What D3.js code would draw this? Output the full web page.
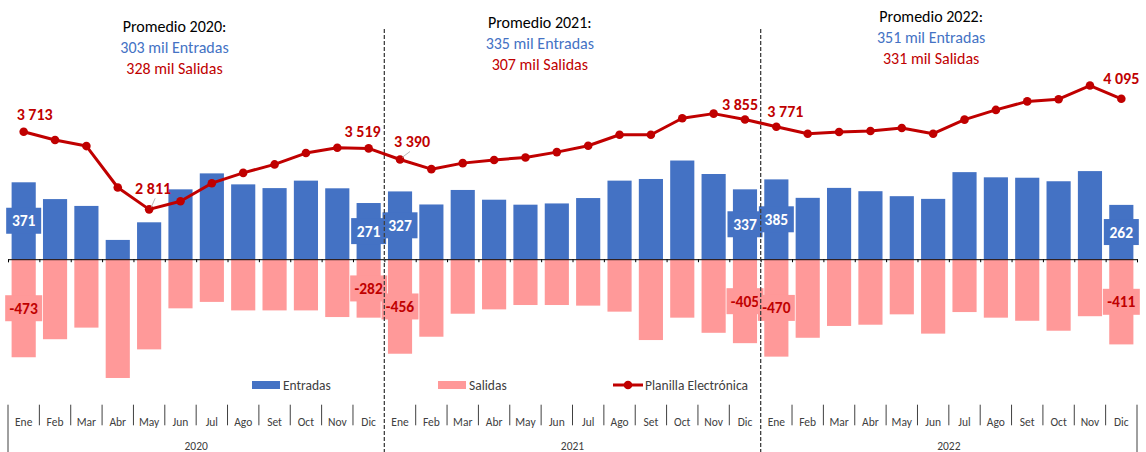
<!DOCTYPE html>
<html>
<head>
<meta charset="utf-8">
<script src="https://cdn.jsdelivr.net/npm/d3@7"></script>
<style>
  html, body { margin: 0; padding: 0; background: #fff; }
  svg { display: block; font-family: Carlito, Calibri, Lato, sans-serif; }
</style>
</head>
<body>
<svg id="chart" width="1146" height="452"></svg>
<script>
// ---------- data ----------
const months = ["Ene","Feb","Mar","Abr","May","Jun","Jul","Ago","Set","Oct","Nov","Dic"];
const years = ["2020","2021","2022"];
const entradas = [
  371, 290, 257, 93, 178, 337, 414, 361, 343, 379, 342, 271,
  327, 264, 334, 287, 263, 269, 295, 379, 387, 476, 411, 337,
  385, 296, 344, 328, 304, 291, 420, 395, 393, 376, 425, 262
];
const salidas = [
  -473, -386, -330, -573, -435, -237, -206, -247, -247, -247, -279, -282,
  -456, -374, -263, -242, -221, -221, -224, -253, -390, -282, -355, -405,
  -470, -379, -322, -316, -266, -359, -255, -282, -297, -345, -275, -411
];
const planilla = [
  3713, 3616, 3546, 3065, 2811, 2905, 3115, 3235, 3333, 3465, 3527, 3519,
  3390, 3278, 3348, 3385, 3414, 3476, 3550, 3678, 3678, 3869, 3923, 3855,
  3771, 3690, 3710, 3721, 3756, 3690, 3853, 3966, 4065, 4090, 4249, 4095
];
const promEntradas = [303, 335, 351];
const promSalidas = [328, 307, 331];
const barLabelIdx = [0, 11, 12, 23, 24, 35];
const lineLabelIdx = [0, 4, 11, 12, 23, 24, 35];

// ---------- layout / style config ----------
const W = 1146, H = 452;
const C_BLUE = "#4472C4", C_PINK = "#FF9999", C_RED = "#C00000", C_TXT = "#404040";
const lineLabelOffset = { 0:[11,-17], 4:[4,-21], 11:[-6,-17], 12:[12,-18], 23:[-5,-15], 24:[9,-15], 35:[0,-20] };
const leaderIdx = [4, 12];
const titleDx = [-6, -17, -2];
const titleY0 = [32, 28, 22];

const svg = d3.select("#chart");
const fmt = d3.formatLocale({ decimal: ",", thousands: " ", grouping: [3], currency: ["", ""] }).format(",");

const idx = d3.range(entradas.length);
const x = d3.scaleBand().domain(idx).range([8, 1137]).paddingInner(0.23).paddingOuter(0.115);
const y1 = d3.scaleLinear().domain([-600, 600]).range([259.2 + 600 * 0.2073, 259.2 - 600 * 0.2073]);
const y2 = d3.scaleLinear().domain([2800, 4300]).range([131.7 + 913 * 0.0861, 131.7 - 587 * 0.0861]);
const cx = i => x(i) + x.bandwidth() / 2;
const edge = i => x.range()[0] + i * x.step();

// bars
svg.append("g").selectAll("rect").data(idx).join("rect")
  .attr("x", i => x(i)).attr("width", x.bandwidth())
  .attr("y", i => y1(entradas[i])).attr("height", i => y1(0) - y1(entradas[i]))
  .attr("fill", C_BLUE);
svg.append("g").selectAll("rect").data(idx).join("rect")
  .attr("x", i => x(i)).attr("width", x.bandwidth())
  .attr("y", y1(0)).attr("height", i => y1(salidas[i]) - y1(0))
  .attr("fill", C_PINK);

// zero axis with ticks at band edges
const zeroAxis = d3.axisBottom(d3.scaleLinear().domain([0, 36]).range([edge(0), edge(36)]))
  .tickValues(d3.range(37)).tickSize(3).tickFormat("");
svg.append("g").attr("transform", `translate(0,${y1(0)})`).call(zeroAxis)
  .call(g => g.selectAll("path,line").attr("stroke", "#000").attr("stroke-width", 1));

// bar labels
const bl = svg.append("g").attr("font-weight", "bold").attr("font-size", 15.5);
barLabelIdx.forEach(i => {
  const ym = (y1(entradas[i]) + y1(0)) / 2;
  bl.append("rect").attr("x", cx(i) - 17.5).attr("y", ym - 13).attr("width", 35).attr("height", 26).attr("fill", C_BLUE);
  bl.append("text").attr("x", cx(i)).attr("y", ym + 5.5).attr("text-anchor", "middle").attr("fill", "#fff").text(entradas[i]);
  const ys = (y1(salidas[i]) + y1(0)) / 2;
  bl.append("rect").attr("x", cx(i) - 18.5).attr("y", ys - 13).attr("width", 37).attr("height", 26).attr("fill", C_PINK);
  bl.append("text").attr("x", cx(i)).attr("y", ys + 5.5).attr("text-anchor", "middle").attr("fill", C_RED).text(salidas[i]);
});

// dashed year separators
[12, 24].forEach(k => {
  svg.append("line").attr("x1", edge(k)).attr("x2", edge(k)).attr("y1", 29).attr("y2", H)
    .attr("stroke", "#404040").attr("stroke-width", 1.3).attr("stroke-dasharray", "4,2");
});

// line
const line = d3.line().x(i => cx(i)).y(i => y2(planilla[i]));
svg.append("path").datum(idx).attr("d", line).attr("fill", "none")
  .attr("stroke", C_RED).attr("stroke-width", 3).attr("stroke-linejoin", "round");
svg.append("g").selectAll("circle").data(idx).join("circle")
  .attr("cx", cx).attr("cy", i => y2(planilla[i])).attr("r", 4.3).attr("fill", C_RED);

// leader lines
leaderIdx.forEach(i => {
  const o = lineLabelOffset[i];
  svg.append("line").attr("x1", cx(i) + 2).attr("y1", y2(planilla[i]) - 2)
    .attr("x2", cx(i) + o[0] * 0.5 + 4).attr("y2", y2(planilla[i]) + o[1] + 10)
    .attr("stroke", "#A6A6A6").attr("stroke-width", 0.8);
});

// line labels
lineLabelIdx.forEach(i => {
  const o = lineLabelOffset[i];
  svg.append("text").attr("x", cx(i) + o[0]).attr("y", y2(planilla[i]) + o[1] + 5.5)
    .attr("text-anchor", "middle").attr("font-weight", "bold").attr("font-size", 16)
    .attr("fill", C_RED).text(fmt(planilla[i]));
});

// titles
years.forEach((yr, k) => {
  const tx = cx(k * 12 + 5) + titleDx[k];
  const g = svg.append("g").attr("text-anchor", "middle").attr("font-size", 16);
  g.append("text").attr("x", tx).attr("y", titleY0[k]).attr("fill", "#000").text(`Promedio ${yr}:`);
  g.append("text").attr("x", tx).attr("y", titleY0[k] + 20.7).attr("fill", C_BLUE).text(`${promEntradas[k]} mil Entradas`);
  g.append("text").attr("x", tx).attr("y", titleY0[k] + 41.7).attr("fill", C_RED).text(`${promSalidas[k]} mil Salidas`);
});

// legend
const lg = svg.append("g").attr("font-size", 13.5).attr("fill", C_TXT);
lg.append("rect").attr("x", 252).attr("y", 381).attr("width", 28).attr("height", 8).attr("fill", C_BLUE);
lg.append("text").attr("x", 283).attr("y", 389.5).text("Entradas");
lg.append("rect").attr("x", 438).attr("y", 381).attr("width", 28).attr("height", 8).attr("fill", C_PINK);
lg.append("text").attr("x", 469).attr("y", 389.5).text("Salidas");
lg.append("line").attr("x1", 613).attr("x2", 643).attr("y1", 385).attr("y2", 385).attr("stroke", C_RED).attr("stroke-width", 3);
lg.append("circle").attr("cx", 628).attr("cy", 385).attr("r", 4.3).attr("fill", C_RED);
lg.append("text").attr("x", 645).attr("y", 389.5).text("Planilla Electrónica");

// category axis (months + years)
const ax = svg.append("g");
d3.range(37).forEach(k => {
  const isYear = k % 12 === 0;
  if (isYear && (k === 12 || k === 24)) return;
  ax.append("line").attr("x1", edge(k)).attr("x2", edge(k))
    .attr("y1", 404.7).attr("y2", isYear ? H : 425.3)
    .attr("stroke", "#404040").attr("stroke-width", 1);
});
ax.selectAll("text.m").data(idx).join("text").attr("class", "m")
  .attr("x", cx).attr("y", 425.5).attr("text-anchor", "middle")
  .attr("font-size", 11.5).attr("fill", C_TXT).text(i => months[i % 12]);
ax.selectAll("text.y").data(years).join("text").attr("class", "y")
  .attr("x", (d, k) => (edge(k * 12) + edge(k * 12 + 12)) / 2).attr("y", 449.5)
  .attr("text-anchor", "middle").attr("font-size", 11.5).attr("fill", C_TXT).text(d => d);
</script>
</body>
</html>
